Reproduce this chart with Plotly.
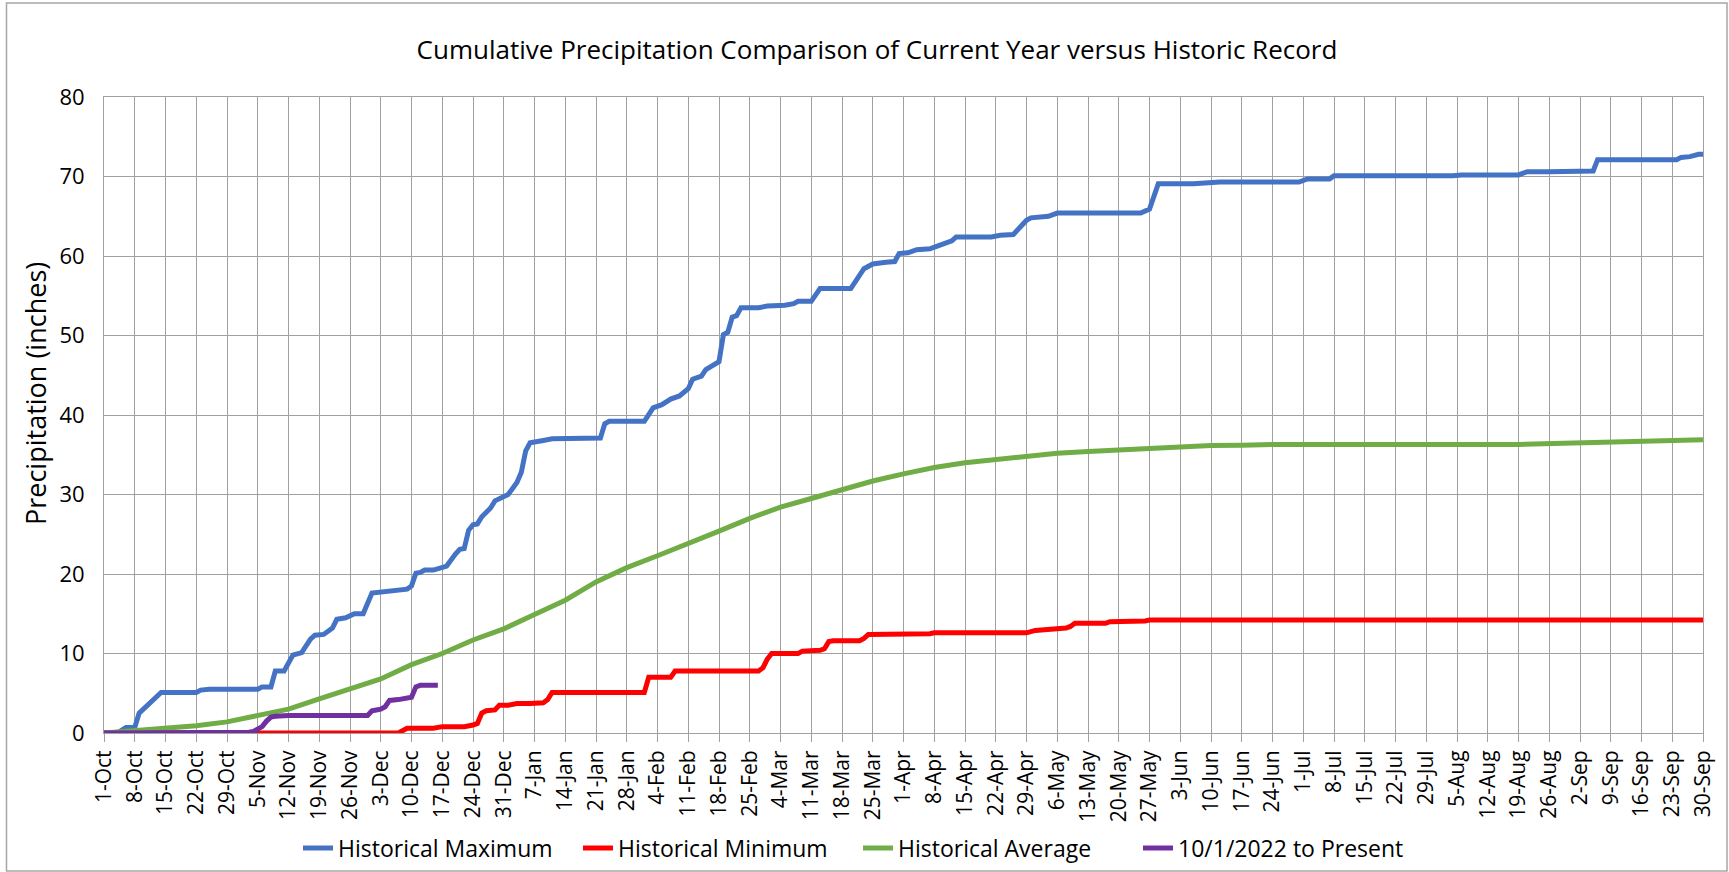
import pandas as pd
import plotly.graph_objects as go

# ---- data (day offsets from 1-Oct, cumulative inches) ----
season_start = "2022-10-01"

max_days = [0, 3, 5, 7, 8, 10, 11, 13, 21, 22, 24, 35, 36, 38, 39, 41, 43, 45, 47, 48, 50, 51, 52, 53, 55, 57, 59,
            61, 63, 66, 69, 70, 71, 72, 73, 75, 77, 78, 80, 81, 82, 83, 84, 85, 86, 88, 89, 91, 92, 94, 95, 96, 97,
            100, 102, 113, 114, 115, 123, 125, 127, 129, 131, 133, 134, 136, 137, 140, 141, 142, 143, 144, 145, 149,
            151, 155, 157, 158, 161, 163, 170, 173, 175, 178, 180, 181, 183, 185, 188, 190, 192, 193, 194, 202, 204,
            207, 209, 210, 211, 215, 217, 236, 238, 240, 248, 254, 272, 274, 279, 280, 307, 309, 322, 324, 329, 339,
            340, 358, 359, 361, 363, 364]
max_vals = [0, 0, 0.7, 0.7, 2.5, 3.6, 4.0, 5.1, 5.1, 5.4, 5.5, 5.5, 5.8, 5.8, 7.8, 7.8, 9.8, 10.1, 11.8, 12.3, 12.4,
            12.8, 13.2, 14.3, 14.5, 15.0, 15.0, 17.6, 17.7, 17.9, 18.1, 18.5, 20.1, 20.2, 20.5, 20.5, 20.8, 21.0,
            22.5, 23.1, 23.2, 25.5, 26.2, 26.3, 27.2, 28.3, 29.2, 29.8, 30.0, 31.5, 32.8, 35.5, 36.5, 36.8, 37.0,
            37.1, 38.9, 39.2, 39.2, 40.9, 41.3, 42.0, 42.4, 43.3, 44.5, 44.9, 45.7, 46.7, 50.1, 50.4, 52.3, 52.5,
            53.5, 53.5, 53.7, 53.8, 54.0, 54.3, 54.3, 55.9, 55.9, 58.4, 59.0, 59.2, 59.3, 60.3, 60.4, 60.8, 60.9,
            61.3, 61.7, 61.9, 62.4, 62.4, 62.6, 62.7, 63.9, 64.5, 64.8, 65.0, 65.4, 65.4, 65.9, 69.1, 69.1, 69.3,
            69.3, 69.7, 69.7, 70.1, 70.1, 70.2, 70.2, 70.6, 70.6, 70.7, 72.1, 72.1, 72.4, 72.5, 72.8, 72.8]

min_days = [0, 67, 69, 75, 77, 82, 84, 85, 86, 87, 89, 90, 92, 94, 97, 100, 101, 102, 123, 124, 129, 130, 149, 150,
            151, 152, 158, 159, 163, 164, 165, 166, 172, 173, 174, 180, 181, 188, 189, 210, 212, 216, 219, 220, 221,
            228, 229, 237, 238, 364]
min_vals = [0, 0, 0.6, 0.6, 0.8, 0.8, 1.0, 1.2, 2.5, 2.8, 2.9, 3.5, 3.5, 3.7, 3.7, 3.8, 4.2, 5.1, 5.1, 7.0, 7.0,
            7.8, 7.8, 8.2, 9.3, 10.0, 10.0, 10.3, 10.4, 10.6, 11.5, 11.6, 11.6, 11.9, 12.4, 12.4, 12.5, 12.5, 12.6,
            12.6, 12.9, 13.0, 13.2, 13.4, 13.8, 13.8, 14.0, 14.1, 14.2, 14.2]

avg_days = [0, 7, 14, 21, 28, 35, 42, 49, 56, 63, 70, 77, 84, 91, 98, 105, 112, 119, 126, 133, 140, 147, 154, 161,
            168, 175, 182, 189, 196, 203, 210, 217, 224, 231, 238, 245, 252, 259, 266, 322, 329, 336, 343, 350, 357,
            364]
avg_vals = [0, 0.3, 0.55, 0.9, 1.4, 2.2, 3.0, 4.3, 5.5, 6.8, 8.6, 10.0, 11.7, 13.1, 14.9, 16.7, 19.0, 20.8, 22.3,
            23.8, 25.4, 27.0, 28.4, 29.5, 30.6, 31.7, 32.6, 33.4, 34.0, 34.4, 34.9, 35.2, 35.4, 35.6, 35.85, 35.95,
            36.15, 36.2, 36.3, 36.3, 36.4, 36.4, 36.5, 36.55, 36.75, 36.9]

cur_days = [0, 31, 33, 34, 35, 36, 37, 38, 39, 42, 60, 61, 62, 63, 64, 65, 67, 69, 70, 71, 72, 76]
cur_vals = [0, 0, 0.1, 0.2, 0.5, 0.8, 1.5, 2.0, 2.1, 2.2, 2.2, 2.8, 2.9, 3.0, 3.3, 4.1, 4.2, 4.3, 4.5, 5.8, 6.0, 6.0]

series_names = ["Historical Maximum", "Historical Minimum", "Historical Average", "10/1/2022 to Present"]
series_colors = ["#4472C4", "#FF0000", "#70AD47", "#7030A0"]
y_ticks = [0, 10, 20, 30, 40, 50, 60, 70, 80]

start = pd.Timestamp(season_start)
def to_dates(days):
    return start + pd.to_timedelta(days, unit="D")

FONT = "Open Sans"
W, H = 1729, 872
ML, MR, MT, MB = 104, 26, 97, 139

fig = go.Figure()
for name, color, d, v in zip(series_names, series_colors,
                             [max_days, min_days, avg_days, cur_days],
                             [max_vals, min_vals, avg_vals, cur_vals]):
    fig.add_trace(go.Scatter(x=to_dates(d), y=v, mode="lines", name=name,
                             line=dict(color=color, width=5)))

end = start + pd.Timedelta(days=364)
grid = "#A0A0A0"
fig.update_xaxes(type="date", range=[start, end], tick0=start, dtick=7 * 86400000,
                 tickformat="%-d-%b", tickangle=-90, showgrid=True, gridcolor=grid, gridwidth=1,
                 ticks="outside", ticklen=8, tickcolor=grid, showline=True, linecolor=grid, mirror=True,
                 tickfont=dict(family=FONT, size=21, color="black"), zeroline=False, automargin=False)
fig.update_yaxes(range=[0, 80], tickvals=y_ticks, showgrid=True, gridcolor=grid, gridwidth=1,
                 showline=True, linecolor=grid, mirror=True, zeroline=False, ticks="",
                 ticklabelstandoff=14, automargin=False,
                 tickfont=dict(family=FONT, size=22, color="black"))

pw = W - ML - MR
ph = H - MT - MB
def px_x(px):
    return (px - ML) / pw
def px_y(py):
    return (H - MB - py) / ph

fig.add_annotation(text="Precipitation (inches)", xref="paper", yref="paper",
                   x=px_x(36), y=px_y(394), textangle=-90, showarrow=False,
                   xanchor="center", yanchor="middle",
                   font=dict(family=FONT, size=27, color="black"))

fig.add_shape(type="rect", xref="paper", yref="paper",
              x0=px_x(6.5), x1=px_x(1727), y0=px_y(3), y1=px_y(871),
              line=dict(color="#A6A6A6", width=1.5), fillcolor="rgba(0,0,0,0)", layer="below")

fig.update_layout(
    width=W, height=H,
    margin=dict(l=ML, r=MR, t=MT, b=MB, autoexpand=False),
    paper_bgcolor="white", plot_bgcolor="white",
    title=dict(text="Cumulative Precipitation Comparison of Current Year versus Historic Record",
               x=877 / W, xref="container", xanchor="center", y=1 - 50 / H, yref="container", yanchor="middle",
               font=dict(family=FONT, size=26, color="black")),
    legend=dict(orientation="h", xref="container", yref="container", x=858 / W, xanchor="center",
                y=1 - 848 / H, yanchor="middle", font=dict(family=FONT, size=23, color="black"),
                itemwidth=30, traceorder="normal", entrywidth=235, entrywidthmode="pixels"),
    showlegend=True,
)

fig.write_html("out.html", config={"displayModeBar": False},
               post_script="document.body.style.margin='0';document.body.style.overflow='hidden';")
